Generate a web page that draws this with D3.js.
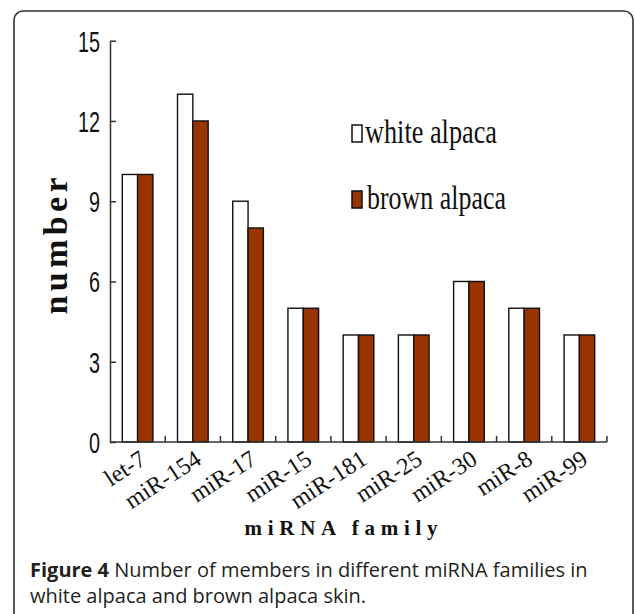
<!DOCTYPE html>
<html>
<head>
<meta charset="utf-8">
<script src="https://d3js.org/d3.v7.min.js"></script>
<style>
  body { margin: 0; background: #fff; }
  svg { display: block; }
</style>
</head>
<body>
<div id="chart"></div>
<script>
/* miRNA family members, white vs brown alpaca */

const families = ['let-7','miR-154','miR-17','miR-15','miR-181','miR-25','miR-30','miR-8','miR-99']
const whiteAlpaca = [10,13,9,5,4,4,6,5,4]
const brownAlpaca = [10,12,8,5,4,4,6,5,4]
const seriesNames = ['white alpaca','brown alpaca']
const yTicks = [0,3,6,9,12,15]

const width = 635
const height = 614
const margin = {left:110, right:28, top:40.7, bottom:172}
const plotW = width - margin.left - margin.right   //497
const plotH = height - margin.top - margin.bottom  //~401

const colors = ['#ffffff','#993300']

const svg = d3.select('#chart').append('svg')
	.attr('width',width)
	.attr('height',height)

//the rounded frame around figure + caption
svg.append('rect')
	.attr('x',14).attr('y',11)
	.attr('width',619).attr('height',640)
	.attr('rx',9)
	.attr('fill','none')
	.attr('stroke','#333')
	.attr('stroke-width',1.6)

const g = svg.append('g')
	.attr('transform',`translate(${margin.left},${margin.top})`)

const x0 = d3.scaleBand()
	.domain(families)
	.range([0,plotW])
	.paddingInner(0.445)
	.paddingOuter(0.2225)
const x1 = d3.scaleBand()
	.domain(seriesNames)
	.range([0,x0.bandwidth()])
const y = d3.scaleLinear()
	.domain([0,15])
	.range([plotH,0])

const rows = families.map(function(f,i){
	return {family:f, values:[whiteAlpaca[i],brownAlpaca[i]]}
})

//bars
const group = g.selectAll('.grp')
	.data(rows)
	.enter().append('g')
	.attr('class','grp')
	.attr('transform',function(d){ return `translate(${x0(d.family)},0)` })
group.selectAll('rect')
	.data(function(d){ return d.values.map(function(v,j){ return {name:seriesNames[j], v:v, j:j} }) })
	.enter().append('rect')
	.attr('x',function(d){ return x1(d.name) })
	.attr('y',function(d){ return y(d.v) })
	.attr('width',x1.bandwidth())
	.attr('height',function(d){ return plotH - y(d.v) })
	.attr('fill',function(d){ return colors[d.j] })
	.attr('stroke','#111')
	.attr('stroke-width',1.4)

//y axis, ticks pointing inside
const yAxis = g.append('g')
	.call(d3.axisLeft(y).tickValues(yTicks).tickSize(-6).tickSizeOuter(0).tickPadding(10))
yAxis.select('.domain').attr('stroke','#333').attr('stroke-width',1.5)
yAxis.selectAll('.tick line').attr('stroke','#333').attr('stroke-width',1.5)
yAxis.selectAll('.tick text')
	.attr('font-family','Liberation Sans, Arial, sans-serif')
	.attr('font-size',29)
	.attr('fill','#111')
	.attr('dy','0.36em')
	.attr('textLength',function(d){ return String(d).length*11 })
	.attr('lengthAdjust','spacingAndGlyphs')

//x axis: baseline + separator ticks between groups
const xAxis = g.append('g')
	.attr('transform',`translate(0,${plotH})`)
xAxis.append('line')
	.attr('x1',0).attr('x2',plotW)
	.attr('stroke','#333').attr('stroke-width',1.5)
const bounds = families.map(function(f){ return x0(f) - x0.step()*x0.paddingOuter() })
bounds.push(plotW)
xAxis.selectAll('.sep')
	.data(bounds.slice(1))
	.enter().append('line')
	.attr('class','sep')
	.attr('x1',function(d){ return d }).attr('x2',function(d){ return d })
	.attr('y1',0).attr('y2',-6)
	.attr('stroke','#333').attr('stroke-width',1.5)

xAxis.selectAll('.lbl')
	.data(families)
	.enter().append('text')
	.attr('class','lbl')
	.attr('transform',function(d){ return `translate(${x0(d)+x0.bandwidth()/2+10},21) rotate(-33)` })
	.attr('text-anchor','end')
	.attr('font-family','Liberation Serif, Times New Roman, serif')
	.attr('font-size',24)
	.attr('fill','#111')
	.text(function(d){ return d })

//axis titles
svg.append('text')
	.attr('transform','translate(67,246) rotate(-90)')
	.attr('text-anchor','middle')
	.attr('font-family','Liberation Serif, Times New Roman, serif')
	.attr('font-weight','bold')
	.attr('font-size',34)
	.attr('textLength',137)
	.attr('lengthAdjust','spacing')
	.attr('fill','#111')
	.text('number')

svg.append('text')
	.attr('x',341).attr('y',535)
	.attr('text-anchor','middle')
	.attr('font-family','Liberation Serif, Times New Roman, serif')
	.attr('font-weight','bold')
	.attr('font-size',21)
	.attr('textLength',193)
	.attr('lengthAdjust','spacing')
	.attr('fill','#111')
	.text('miRNA family')

//legend
const legendY = [143,209]
const legendW = [132,139]
const legend = svg.selectAll('.leg')
	.data(seriesNames)
	.enter().append('g')
	.attr('class','leg')
	.attr('transform',function(d,i){ return `translate(352,${legendY[i]})` })
legend.append('rect')
	.attr('x',0).attr('y',-18)
	.attr('width',10).attr('height',17)
	.attr('fill',function(d,i){ return colors[i] })
	.attr('stroke','#111')
	.attr('stroke-width',1.5)
legend.append('text')
	.attr('x',function(d,i){ return i ? 15 : 13 })
	.attr('font-family','Liberation Serif, Times New Roman, serif')
	.attr('font-size',34)
	.attr('textLength',function(d,i){ return legendW[i] })
	.attr('lengthAdjust','spacingAndGlyphs')
	.attr('fill','#111')
	.text(function(d){ return d })

//caption
const cap = svg.append('text')
	.attr('font-family','Open Sans, Noto Sans, sans-serif')
	.attr('font-size',20)
	.attr('fill','#231f20')
cap.append('tspan')
	.attr('x',30).attr('y',577)
	.attr('font-weight','bold')
	.text('Figure 4')
cap.append('tspan')
	.text(' Number of members in different miRNA families in')
cap.append('tspan')
	.attr('x',30).attr('y',603)
	.text('white alpaca and brown alpaca skin.')
</script>
</body>
</html>
